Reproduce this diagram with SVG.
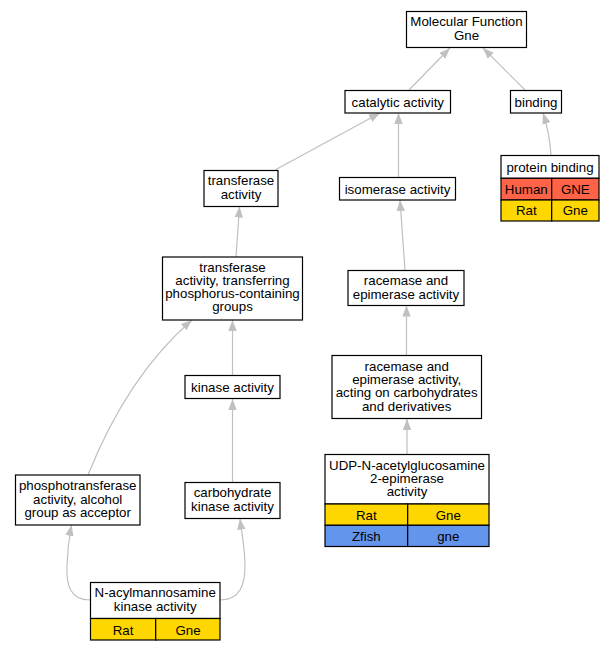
<svg xmlns="http://www.w3.org/2000/svg" width="615" height="651" viewBox="0 0 615 651">
<style>
.box{fill:#fff;stroke:#000;stroke-width:1.2}
.t{font-family:"Liberation Sans",Arial,sans-serif;font-size:13.3px;text-anchor:middle;fill:#000}
.e{fill:none;stroke:#c0c0c0;stroke-width:1.2}
.red{fill:#ff6347;stroke:#000;stroke-width:1.2}
.gold{fill:#ffd700;stroke:#000;stroke-width:1.2}
.blue{fill:#6495ed;stroke:#000;stroke-width:1.2}
</style>
<defs>
<marker id="ah" markerUnits="userSpaceOnUse" markerWidth="12" markerHeight="10" refX="11" refY="5" orient="auto" viewBox="0 0 12 10">
<path d="M0,0.8 L11,5 L0,9.2 Z" fill="#c0c0c0"/>
</marker>
</defs>
<rect width="615" height="651" fill="#fff"/>
<g id="edges">
<path class="e" marker-end="url(#ah)" d="M409,90 L450,48"/>
<path class="e" marker-end="url(#ah)" d="M525,90 L483,48"/>
<path class="e" marker-end="url(#ah)" d="M551,155 C550,140 547,125 543,113"/>
<path class="e" marker-end="url(#ah)" d="M275,170 L380,113"/>
<path class="e" marker-end="url(#ah)" d="M398.5,177 L398.5,113"/>
<path class="e" marker-end="url(#ah)" d="M405,270 L400,200"/>
<path class="e" marker-end="url(#ah)" d="M236,257 L239.5,206.5"/>
<path class="e" marker-end="url(#ah)" d="M232.5,375 L232.5,320"/>
<path class="e" marker-end="url(#ah)" d="M88,475 C108,425 140,365 192,320"/>
<path class="e" marker-end="url(#ah)" d="M232.5,482 L232.5,399"/>
<path class="e" marker-end="url(#ah)" d="M406.5,355 L406.5,305.5"/>
<path class="e" marker-end="url(#ah)" d="M407,454 L407,419"/>
<path class="e" marker-end="url(#ah)" d="M90,600 C70,600 66,585 67,565 C67.5,550 69,538 71.5,525"/>
<path class="e" marker-end="url(#ah)" d="M220,600 C240,600 245,585 245,565 C245,550 242,535 240,518.5"/>
</g>
<g id="mf">
<rect class="box" x="406.5" y="11.5" width="120" height="36"/>
<text class="t" x="466.5" y="26.3">Molecular Function</text>
<text class="t" x="466.5" y="39.6">Gne</text>
</g>
<g id="catalytic">
<rect class="box" x="345" y="90.5" width="105.5" height="22.5"/>
<text class="t" x="397.8" y="106.5">catalytic activity</text>
</g>
<g id="binding">
<rect class="box" x="510.5" y="90.5" width="51" height="22.5"/>
<text class="t" x="536" y="106.5">binding</text>
</g>
<g id="protein_binding">
<rect class="box" x="501" y="155.5" width="98" height="22.8"/>
<rect class="red" x="501" y="178.3" width="50.7" height="21.7"/>
<rect class="red" x="551.7" y="178.3" width="47.3" height="21.7"/>
<rect class="gold" x="501" y="200" width="50.7" height="21"/>
<rect class="gold" x="551.7" y="200" width="47.3" height="21"/>
<text class="t" x="550" y="171.5">protein binding</text>
<text class="t" x="526.3" y="193.5">Human</text>
<text class="t" x="575.3" y="193.5">GNE</text>
<text class="t" x="526.3" y="215">Rat</text>
<text class="t" x="575.3" y="215">Gne</text>
</g>
<g id="transferase">
<rect class="box" x="204" y="170.5" width="74" height="36"/>
<text class="t" x="241" y="185.2">transferase</text>
<text class="t" x="241" y="198.5">activity</text>
</g>
<g id="isomerase">
<rect class="box" x="339.5" y="177.5" width="116" height="22.5"/>
<text class="t" x="397.5" y="193.5">isomerase activity</text>
</g>
<g id="transferring">
<rect class="box" x="162.5" y="257" width="140" height="63"/>
<text class="t" x="232.5" y="271.5">transferase</text>
<text class="t" x="232.5" y="284.8">activity, transferring</text>
<text class="t" x="232.5" y="298.1">phosphorus-containing</text>
<text class="t" x="232.5" y="311.4">groups</text>
</g>
<g id="racemase">
<rect class="box" x="348" y="270.5" width="116" height="35"/>
<text class="t" x="406" y="285.3">racemase and</text>
<text class="t" x="406" y="298.6">epimerase activity</text>
</g>
<g id="kinase">
<rect class="box" x="185" y="375.5" width="95" height="23"/>
<text class="t" x="232.5" y="392">kinase activity</text>
</g>
<g id="racemase_carb">
<rect class="box" x="332" y="355.5" width="149.5" height="63"/>
<text class="t" x="406.7" y="370.8">racemase and</text>
<text class="t" x="406.7" y="384.1">epimerase activity,</text>
<text class="t" x="406.7" y="397.4">acting on carbohydrates</text>
<text class="t" x="406.7" y="410.7">and derivatives</text>
</g>
<g id="udp">
<rect class="box" x="325" y="454.5" width="164" height="49.5"/>
<rect class="gold" x="325" y="504" width="82.7" height="21.3"/>
<rect class="gold" x="407.7" y="504" width="81.3" height="21.3"/>
<rect class="blue" x="325" y="525.3" width="82.7" height="21.2"/>
<rect class="blue" x="407.7" y="525.3" width="81.3" height="21.2"/>
<text class="t" x="407" y="469.5">UDP-N-acetylglucosamine</text>
<text class="t" x="407" y="482.8">2-epimerase</text>
<text class="t" x="407" y="496.1">activity</text>
<text class="t" x="366.3" y="519.5">Rat</text>
<text class="t" x="448.3" y="519.5">Gne</text>
<text class="t" x="366.3" y="540.5">Zfish</text>
<text class="t" x="448.3" y="540.5">gne</text>
</g>
<g id="phosphotransferase">
<rect class="box" x="15.5" y="475" width="124.5" height="50"/>
<text class="t" x="77.7" y="490.3">phosphotransferase</text>
<text class="t" x="77.7" y="503.6">activity, alcohol</text>
<text class="t" x="77.7" y="516.9">group as acceptor</text>
</g>
<g id="carbohydrate_kinase">
<rect class="box" x="185" y="482.5" width="95" height="36"/>
<text class="t" x="232.5" y="497.2">carbohydrate</text>
<text class="t" x="232.5" y="510.5">kinase activity</text>
</g>
<g id="nacyl">
<rect class="box" x="90.5" y="582.5" width="129.5" height="36"/>
<rect class="gold" x="90.5" y="618.5" width="65.2" height="21.5"/>
<rect class="gold" x="155.7" y="618.5" width="64.3" height="21.5"/>
<text class="t" x="155.2" y="597.2">N-acylmannosamine</text>
<text class="t" x="155.2" y="610.5">kinase activity</text>
<text class="t" x="123" y="634.5">Rat</text>
<text class="t" x="188" y="634.5">Gne</text>
</g>
</svg>
